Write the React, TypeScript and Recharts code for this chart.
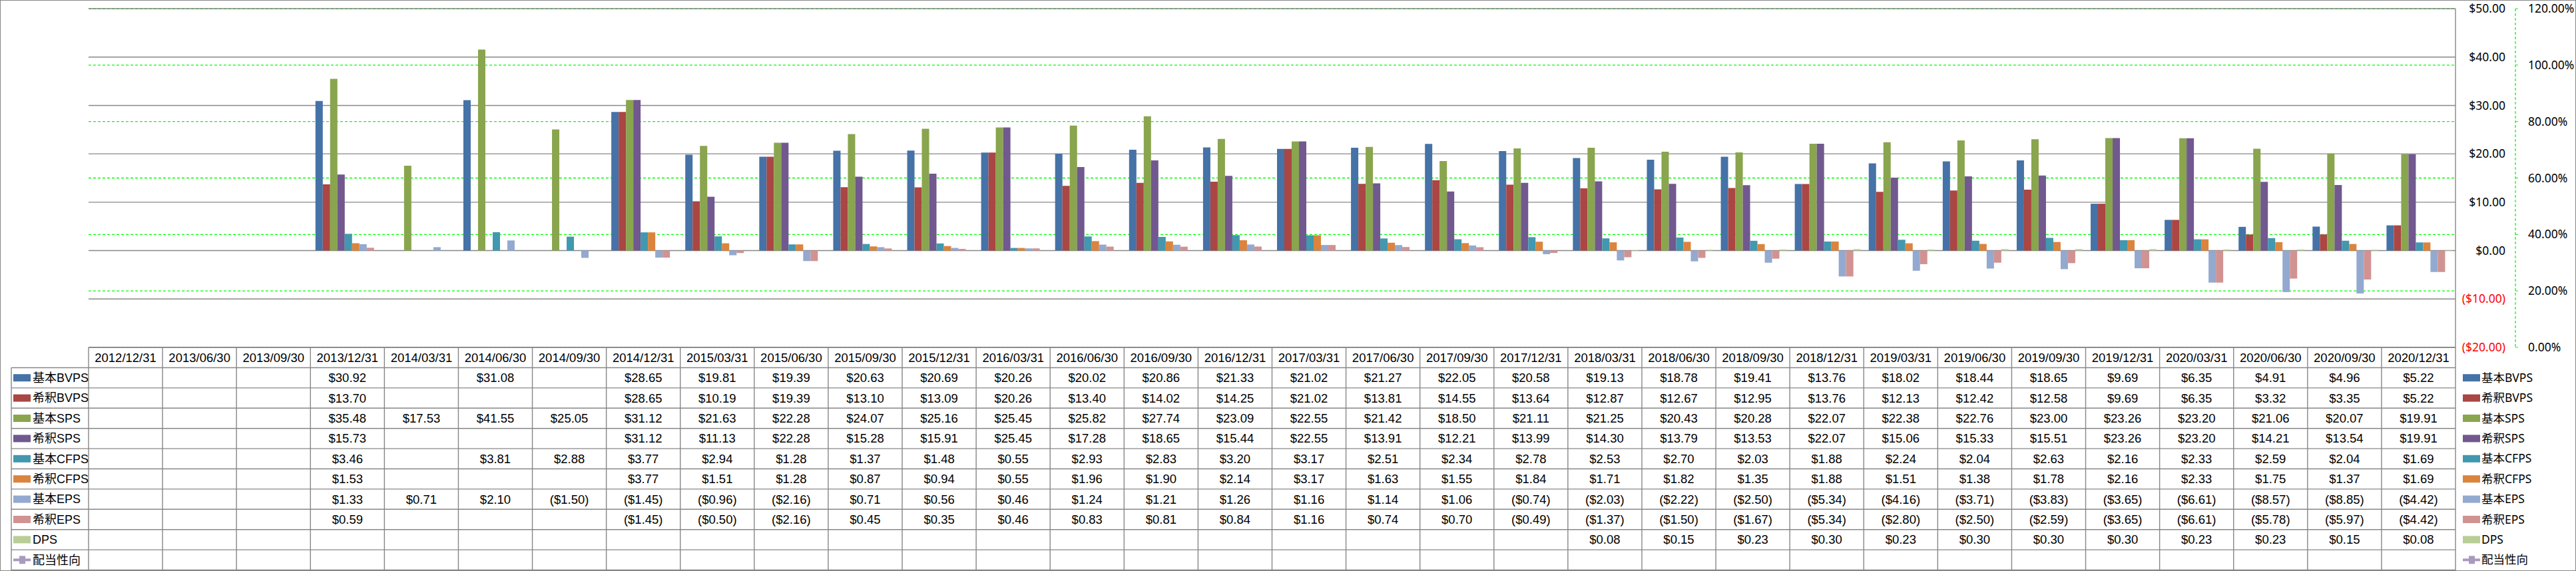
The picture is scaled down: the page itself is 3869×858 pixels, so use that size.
import React from 'react';
import { ComposedChart, Bar, Line, XAxis, YAxis, CartesianGrid } from 'recharts';

const dates = [
  '2012/12/31', '2013/06/30', '2013/09/30', '2013/12/31', '2014/03/31', '2014/06/30', '2014/09/30', '2014/12/31',
  '2015/03/31', '2015/06/30', '2015/09/30', '2015/12/31', '2016/03/31', '2016/06/30', '2016/09/30', '2016/12/31',
  '2017/03/31', '2017/06/30', '2017/09/30', '2017/12/31', '2018/03/31', '2018/06/30', '2018/09/30', '2018/12/31',
  '2019/03/31', '2019/06/30', '2019/09/30', '2019/12/31', '2020/03/31', '2020/06/30', '2020/09/30', '2020/12/31',
];

const basicBVPS = [null, null, null, 30.92, null, 31.08, null, 28.65, 19.81, 19.39, 20.63, 20.69, 20.26, 20.02, 20.86, 21.33, 21.02, 21.27, 22.05, 20.58, 19.13, 18.78, 19.41, 13.76, 18.02, 18.44, 18.65, 9.69, 6.35, 4.91, 4.96, 5.22];
const dilutedBVPS = [null, null, null, 13.70, null, null, null, 28.65, 10.19, 19.39, 13.10, 13.09, 20.26, 13.40, 14.02, 14.25, 21.02, 13.81, 14.55, 13.64, 12.87, 12.67, 12.95, 13.76, 12.13, 12.42, 12.58, 9.69, 6.35, 3.32, 3.35, 5.22];
const basicSPS = [null, null, null, 35.48, 17.53, 41.55, 25.05, 31.12, 21.63, 22.28, 24.07, 25.16, 25.45, 25.82, 27.74, 23.09, 22.55, 21.42, 18.50, 21.11, 21.25, 20.43, 20.28, 22.07, 22.38, 22.76, 23.00, 23.26, 23.20, 21.06, 20.07, 19.91];
const dilutedSPS = [null, null, null, 15.73, null, null, null, 31.12, 11.13, 22.28, 15.28, 15.91, 25.45, 17.28, 18.65, 15.44, 22.55, 13.91, 12.21, 13.99, 14.30, 13.79, 13.53, 22.07, 15.06, 15.33, 15.51, 23.26, 23.20, 14.21, 13.54, 19.91];
const basicCFPS = [null, null, null, 3.46, null, 3.81, 2.88, 3.77, 2.94, 1.28, 1.37, 1.48, 0.55, 2.93, 2.83, 3.20, 3.17, 2.51, 2.34, 2.78, 2.53, 2.70, 2.03, 1.88, 2.24, 2.04, 2.63, 2.16, 2.33, 2.59, 2.04, 1.69];
const dilutedCFPS = [null, null, null, 1.53, null, null, null, 3.77, 1.51, 1.28, 0.87, 0.94, 0.55, 1.96, 1.90, 2.14, 3.17, 1.63, 1.55, 1.84, 1.71, 1.82, 1.35, 1.88, 1.51, 1.38, 1.78, 2.16, 2.33, 1.75, 1.37, 1.69];
const basicEPS = [null, null, null, 1.33, 0.71, 2.10, -1.50, -1.45, -0.96, -2.16, 0.71, 0.56, 0.46, 1.24, 1.21, 1.26, 1.16, 1.14, 1.06, -0.74, -2.03, -2.22, -2.50, -5.34, -4.16, -3.71, -3.83, -3.65, -6.61, -8.57, -8.85, -4.42];
const dilutedEPS = [null, null, null, 0.59, null, null, null, -1.45, -0.50, -2.16, 0.45, 0.35, 0.46, 0.83, 0.81, 0.84, 1.16, 0.74, 0.70, -0.49, -1.37, -1.50, -1.67, -5.34, -2.80, -2.50, -2.59, -3.65, -6.61, -5.78, -5.97, -4.42];
const dps = [null, null, null, null, null, null, null, null, null, null, null, null, null, null, null, null, null, null, null, null, 0.08, 0.15, 0.23, 0.30, 0.23, 0.30, 0.30, 0.30, 0.23, 0.23, 0.15, 0.08];
const payoutRatio = [null, null, null, null, null, null, null, null, null, null, null, null, null, null, null, null, null, null, null, null, null, null, null, null, null, null, null, null, null, null, null, null];

const usdTicks = [-20, -10, 0, 10, 20, 30, 40, 50];
const pctTicks = [0, 0.2, 0.4, 0.6, 0.8, 1.0, 1.2];

const barSeries = [
  { key: 'basicBVPS', name: '基本BVPS', color: '#4572A7', values: basicBVPS },
  { key: 'dilutedBVPS', name: '希釈BVPS', color: '#AA4643', values: dilutedBVPS },
  { key: 'basicSPS', name: '基本SPS', color: '#89A54E', values: basicSPS },
  { key: 'dilutedSPS', name: '希釈SPS', color: '#71588F', values: dilutedSPS },
  { key: 'basicCFPS', name: '基本CFPS', color: '#4198AF', values: basicCFPS },
  { key: 'dilutedCFPS', name: '希釈CFPS', color: '#DB843D', values: dilutedCFPS },
  { key: 'basicEPS', name: '基本EPS', color: '#93A9CF', values: basicEPS },
  { key: 'dilutedEPS', name: '希釈EPS', color: '#D19392', values: dilutedEPS },
  { key: 'dps', name: 'DPS', color: '#B9CD96', values: dps },
];
const lineSeries = { key: 'payout', name: '配当性向', color: '#A99BBD', values: payoutRatio };
const tableRows = [...barSeries, lineSeries];

const data = dates.map((date, i) => {
  const row: Record<string, any> = { date };
  tableRows.forEach(s => { row[s.key] = s.values[i]; });
  return row;
});

const GRID = '#878787';
const TABLE_FONT = "'Liberation Sans', 'Noto Sans CJK JP', sans-serif";
const AXIS_FONT = "'Noto Sans', 'Noto Sans CJK JP', sans-serif";
const HEADER_H = 30.5;
const ROW_H = 30.4;
const LEGEND_COL_W = 116;
const BOTTOM = 857;

const fmtUsd = (v: number) => (v < 0 ? `($${Math.abs(v).toFixed(2)})` : `$${v.toFixed(2)}`);
const fmtPct = (v: number) => `${(v * 100).toFixed(2)}%`;

const Swatch = ({ x, cy, s }: { x: number; cy: number; s: any }) =>
  s.key === 'payout' ? (
    <g>
      <line x1={x} x2={x + 26} y1={cy} y2={cy} stroke={s.color} strokeWidth={4} />
      <rect x={x + 9} y={cy - 6} width={9} height={12} fill={s.color} />
    </g>
  ) : (
    <rect x={x} y={cy - 5.5} width={26} height={11} fill={s.color} />
  );

// each x tick draws one column of the data table (plus the legends at both ends)
const TableColumn = (props: any) => {
  const { x, y, payload } = props;
  const i = props.index ?? payload.index;
  const half = typeof payload.offset === 'number' && payload.offset > 0 ? payload.offset : 55.55;
  const left = x - half;
  const right = x + half;
  const top = y;
  const rowsTop = top + HEADER_H;
  const lines: React.ReactNode[] = [];
  lines.push(<line key="t" x1={left} x2={right} y1={top} y2={top} stroke={GRID} strokeWidth={1.4} />);
  lines.push(<line key="l" x1={left} x2={left} y1={top} y2={BOTTOM} stroke={GRID} strokeWidth={1.4} />);
  if (i === dates.length - 1) {
    lines.push(<line key="r" x1={right} x2={right} y1={top} y2={BOTTOM} stroke={GRID} strokeWidth={1.4} />);
  }
  for (let r = 0; r <= tableRows.length; r++) {
    const yy = rowsTop + r * ROW_H;
    lines.push(<line key={`h${r}`} x1={i === 0 ? left - LEGEND_COL_W : left} x2={right} y1={yy} y2={yy} stroke={GRID} strokeWidth={1.4} />);
  }
  return (
    <g>
      {lines}
      <text x={x} y={top + HEADER_H / 2} dy="0.35em" textAnchor="middle" fontFamily={TABLE_FONT} fontSize={18.5} fill="#000">
        {dates[i]}
      </text>
      {tableRows.map((s, r) => {
        const v = s.values[i];
        if (v === null || v === undefined) return null;
        return (
          <text key={s.key} x={x} y={rowsTop + r * ROW_H + ROW_H / 2} dy="0.35em" textAnchor="middle" fontFamily={TABLE_FONT} fontSize={18.5} fill="#000">
            {fmtUsd(v)}
          </text>
        );
      })}
      {i === 0 && (
        <g>
          <line x1={left - LEGEND_COL_W} x2={left - LEGEND_COL_W} y1={rowsTop} y2={BOTTOM} stroke={GRID} strokeWidth={1.4} />
          {tableRows.map((s, r) => {
            const cy = rowsTop + r * ROW_H + ROW_H / 2;
            return (
              <g key={s.key}>
                <Swatch x={left - LEGEND_COL_W + 3} cy={cy} s={s} />
                <text x={left - LEGEND_COL_W + 32} y={cy} dy="0.35em" fontFamily={TABLE_FONT} fontSize={18} fill="#000">
                  {s.name}
                </text>
              </g>
            );
          })}
        </g>
      )}
      {i === dates.length - 1 &&
        tableRows.map((s, r) => {
          const cy = rowsTop + r * ROW_H + ROW_H / 2;
          return (
            <g key={`lg-${s.key}`}>
              <Swatch x={right + 11} cy={cy} s={s} />
              <text x={right + 39} y={cy} dy="0.35em" fontFamily={AXIS_FONT} fontSize={17.5} fill="#000">
                {s.name}
              </text>
            </g>
          );
        })}
    </g>
  );
};

const UsdTick = (props: any) => {
  const { x, y, payload } = props;
  const v = payload.value;
  return (
    <text x={x + 75} y={y} dy="0.35em" textAnchor="end" fontFamily={AXIS_FONT} fontSize={17.5} fill={v < 0 ? '#FF0000' : '#000'}>
      {fmtUsd(v)}
    </text>
  );
};

const PctTick = (props: any) => {
  const { x, y, payload } = props;
  return (
    <text x={x} y={y} dy="0.35em" textAnchor="start" fontFamily={AXIS_FONT} fontSize={17.5} fill="#000">
      {fmtPct(payload.value)}
    </text>
  );
};

const App: React.FC = () => (
  <div style={{ position: 'absolute', left: 0, top: 0, width: 3869, height: 858, background: '#fff' }}>
    <div style={{ position: 'absolute', left: 0, top: 0, width: 3869, height: 858, boxSizing: 'border-box', border: `1px solid ${GRID}` }} />
    <ComposedChart
      width={3869}
      height={858}
      data={data}
      margin={{ top: 13, right: 0, bottom: 0, left: 133 }}
      barCategoryGap={7.5}
      barGap={0}
    >
      <CartesianGrid yAxisId="b_pct" vertical={false} stroke="#00FF00" strokeDasharray="4 3" strokeWidth={1.3} />
      <CartesianGrid yAxisId="a_usd" vertical={false} stroke={GRID} strokeWidth={1.4} />
      <XAxis
        dataKey="date"
        interval={0}
        tickLine={false}
        axisLine={false}
        tickSize={0}
        tickMargin={0}
        height={336}
        tick={<TableColumn />}
      />
      <YAxis
        yAxisId="b_pct"
        orientation="right"
        width={91}
        type="number"
        domain={[0, 1.2]}
        allowDataOverflow
        ticks={pctTicks}
        tickSize={4}
        tickMargin={15}
        tickLine={{ stroke: '#00FF00' }}
        axisLine={{ stroke: '#00FF00', strokeDasharray: '4 3', strokeWidth: 1.3 }}
        tick={<PctTick />}
      />
      <YAxis
        yAxisId="a_usd"
        orientation="right"
        width={90}
        type="number"
        domain={[-20, 50]}
        allowDataOverflow
        ticks={usdTicks}
        tickLine={false}
        tickSize={0}
        tickMargin={0}
        axisLine={{ stroke: GRID, strokeWidth: 1.4 }}
        tick={<UsdTick />}
      />
      {barSeries.map(s => (
        <Bar key={s.key} yAxisId="a_usd" dataKey={s.key} name={s.name} fill={s.color} isAnimationActive={false} />
      ))}
      <Line yAxisId="b_pct" dataKey="payout" name={lineSeries.name} stroke={lineSeries.color} strokeWidth={3} dot={false} isAnimationActive={false} />
    </ComposedChart>
  </div>
);

export default App;
